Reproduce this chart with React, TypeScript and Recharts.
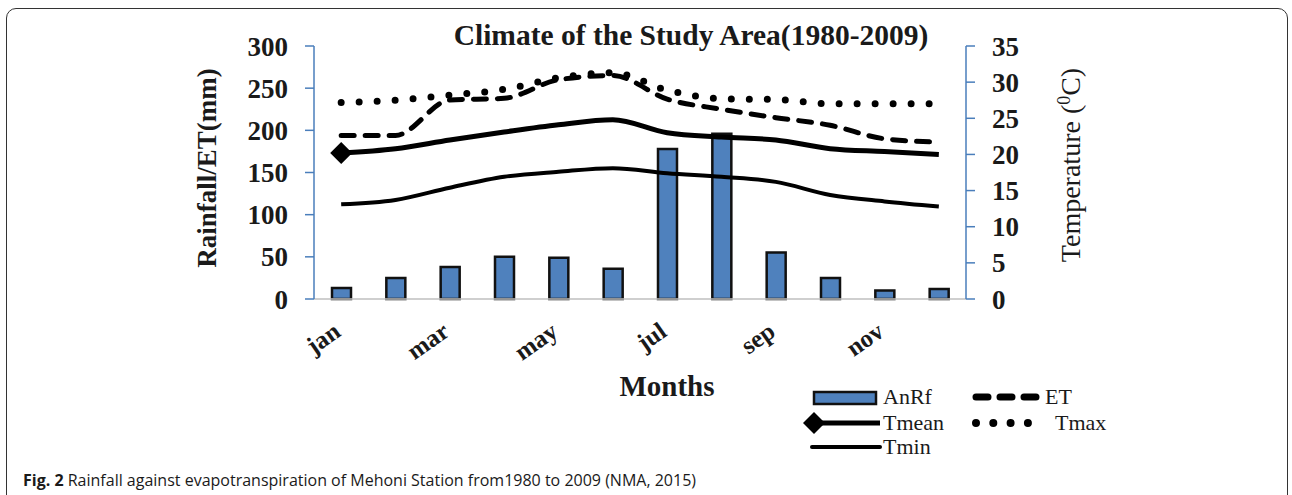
import React from 'react';
import { ComposedChart, Bar, Line, XAxis, YAxis } from 'recharts';

// values (1980-2009)
const MONTHS = ['jan', 'feb', 'mar', 'apr', 'may', 'jun', 'jul', 'aug', 'sep', 'oct', 'nov', 'dec'];
const AN_RF = [13, 25, 38, 50, 49, 36, 178, 196, 55, 25, 10, 12];
const ET = [194, 194, 236, 238, 260, 265, 237, 225, 215, 206, 190, 186];
const T_MEAN = [20.2, 20.8, 22.0, 23.1, 24.1, 24.8, 23.0, 22.4, 22.0, 20.8, 20.4, 20.0];
const T_MAX = [27.2, 27.5, 28.2, 29.0, 30.6, 31.3, 28.9, 27.7, 27.6, 27.0, 27.0, 27.0];
const T_MIN = [13.1, 13.7, 15.4, 16.9, 17.6, 18.1, 17.4, 16.9, 16.2, 14.4, 13.5, 12.8];
const RAIN_TICKS = [0, 50, 100, 150, 200, 250, 300];
const TEMP_TICKS = [0, 5, 10, 15, 20, 25, 30, 35];

const data = MONTHS.map((m, i) => ({
  month: m,
  AnRf: AN_RF[i],
  ET: ET[i],
  Tmean: T_MEAN[i],
  Tmax: T_MAX[i],
  Tmin: T_MIN[i],
}));

const SERIF = '"Liberation Serif", "Times New Roman", serif';
const AXIS_BLUE = '#4a7ebb';
const BAR_BLUE = '#4f81bd';

const tickStyle = { fontSize: 27, fontWeight: 700, fill: '#1a1a1a', fontFamily: SERIF };

const MonthTick = ({ x, y, payload }: any) => (
  <g transform={`translate(${x},${y})`}>
    <text
      x={1}
      y={28}
      textAnchor="end"
      transform="rotate(-35, 1, 28)"
      style={{ fontSize: 25, fontWeight: 700, fill: '#1a1a1a', fontFamily: SERIF }}
    >
      {payload.value}
    </text>
  </g>
);

const FirstDiamond = ({ cx, cy, index }: any) => {
  if (index !== 0) return <g key={`d-${index}`} />;
  const s = 11;
  return (
    <polygon
      key={`d-${index}`}
      points={`${cx - s},${cy} ${cx},${cy - s} ${cx + s},${cy} ${cx},${cy + s}`}
      fill="#000"
    />
  );
};

export default function App() {
  return (
    <div style={{ position: 'absolute', left: 0, top: 0, width: 1292, height: 495, overflow: 'hidden', background: '#fff' }}>
      <div
        style={{
          position: 'absolute', left: 6, top: 8, width: 1282, height: 600,
          border: '1.5px solid #333', borderRadius: 10, boxSizing: 'border-box',
        }}
      />
      <div style={{ position: 'absolute', left: 0, top: 0 }}>
        <ComposedChart width={1292} height={495} data={data} margin={{ top: 46, right: 0, left: 0, bottom: 0 }}>
          <XAxis
            dataKey="month"
            interval={1}
            height={196}
            tickLine={false}
            axisLine={{ stroke: '#bfbfbf', strokeWidth: 1.5 }}
            tick={<MonthTick />}
          />
          <YAxis
            yAxisId="rain"
            width={314}
            domain={[0, 300]}
            ticks={RAIN_TICKS}
            interval={0}
            tickSize={9}
            tickMargin={17}
            axisLine={{ stroke: AXIS_BLUE, strokeWidth: 1.5 }}
            tickLine={{ stroke: AXIS_BLUE, strokeWidth: 1.5 }}
            tick={tickStyle}
          />
          <YAxis
            yAxisId="temp"
            orientation="right"
            width={326}
            domain={[0, 35]}
            ticks={TEMP_TICKS}
            interval={0}
            tickSize={9}
            tickMargin={17}
            axisLine={{ stroke: AXIS_BLUE, strokeWidth: 1.5 }}
            tickLine={{ stroke: AXIS_BLUE, strokeWidth: 1.5 }}
            tick={{ ...tickStyle, textAnchor: 'start' }}
          />
          <Bar yAxisId="rain" dataKey="AnRf" barSize={19} fill={BAR_BLUE} stroke="#111" strokeWidth={2.5} isAnimationActive={false} />
          <Line yAxisId="temp" type="monotone" dataKey="Tmin" stroke="#000" strokeWidth={4} dot={false} isAnimationActive={false} />
          <Line yAxisId="temp" type="monotone" dataKey="Tmean" stroke="#000" strokeWidth={5} dot={<FirstDiamond />} isAnimationActive={false} />
          <Line yAxisId="rain" type="monotone" dataKey="ET" stroke="#000" strokeWidth={5} strokeDasharray="13 11" strokeLinecap="round" dot={false} isAnimationActive={false} />
          <Line yAxisId="temp" type="monotone" dataKey="Tmax" stroke="#000" strokeWidth={7} strokeDasharray="0 18" strokeLinecap="round" dot={false} isAnimationActive={false} />
        </ComposedChart>
      </div>

      <svg width={1292} height={495} style={{ position: 'absolute', left: 0, top: 0, pointerEvents: 'none' }}>
        <text x={691} y={45} textAnchor="middle" style={{ fontSize: 29.5, fontWeight: 700, fontFamily: SERIF, fill: '#1a1a1a' }}>
          Climate of the Study Area(1980-2009)
        </text>
        <text
          transform="translate(216,168) rotate(-90)"
          textAnchor="middle"
          style={{ fontSize: 27, fontWeight: 700, fontFamily: SERIF, fill: '#1a1a1a' }}
        >
          Rainfall/ET(mm)
        </text>
        <text
          transform="translate(1080,165) rotate(-90)"
          textAnchor="middle"
          style={{ fontSize: 28, fontFamily: SERIF, fill: '#1a1a1a' }}
        >
          Temperature (<tspan dy={-10} style={{ fontSize: 18 }}>0</tspan><tspan dy={10}>C)</tspan>
        </text>
        <text x={667} y={396} textAnchor="middle" style={{ fontSize: 29, fontWeight: 700, fontFamily: SERIF, fill: '#1a1a1a' }}>
          Months
        </text>

        {/* legend */}
        <g style={{ fontSize: 22, fontFamily: SERIF, fill: '#1a1a1a' }}>
          <rect x={814} y={392} width={62} height={12} fill={BAR_BLUE} stroke="#111" strokeWidth={2.5} />
          <text x={883} y={404}>AnRf</text>
          <line x1={976} y1={397} x2={1040} y2={397} stroke="#000" strokeWidth={7} strokeLinecap="round" strokeDasharray="12 12" />
          <text x={1045} y={404}>ET</text>
          <line x1={815} y1={423} x2={880} y2={423} stroke="#000" strokeWidth={5} />
          <polygon points="803,423 814,412 825,423 814,434" fill="#000" />
          <text x={883} y={430}>Tmean</text>
          <line x1={976} y1={423} x2={1028} y2={423} stroke="#000" strokeWidth={8} strokeLinecap="round" strokeDasharray="0 17.3" />
          <text x={1055} y={430}>Tmax</text>
          <line x1={812} y1={447} x2={880} y2={447} stroke="#000" strokeWidth={4} strokeLinecap="round" />
          <text x={883} y={454}>Tmin</text>
        </g>
      </svg>

      <div
        style={{
          position: 'absolute', left: 23, top: 469, fontFamily: '"Open Sans", "Noto Sans", sans-serif',
          fontSize: 16, lineHeight: '22px', color: '#1a1a1a', whiteSpace: 'nowrap',
        }}
      >
        <b>Fig. 2</b> Rainfall against evapotranspiration of Mehoni Station from1980 to 2009 (NMA, 2015)
      </div>
    </div>
  );
}
